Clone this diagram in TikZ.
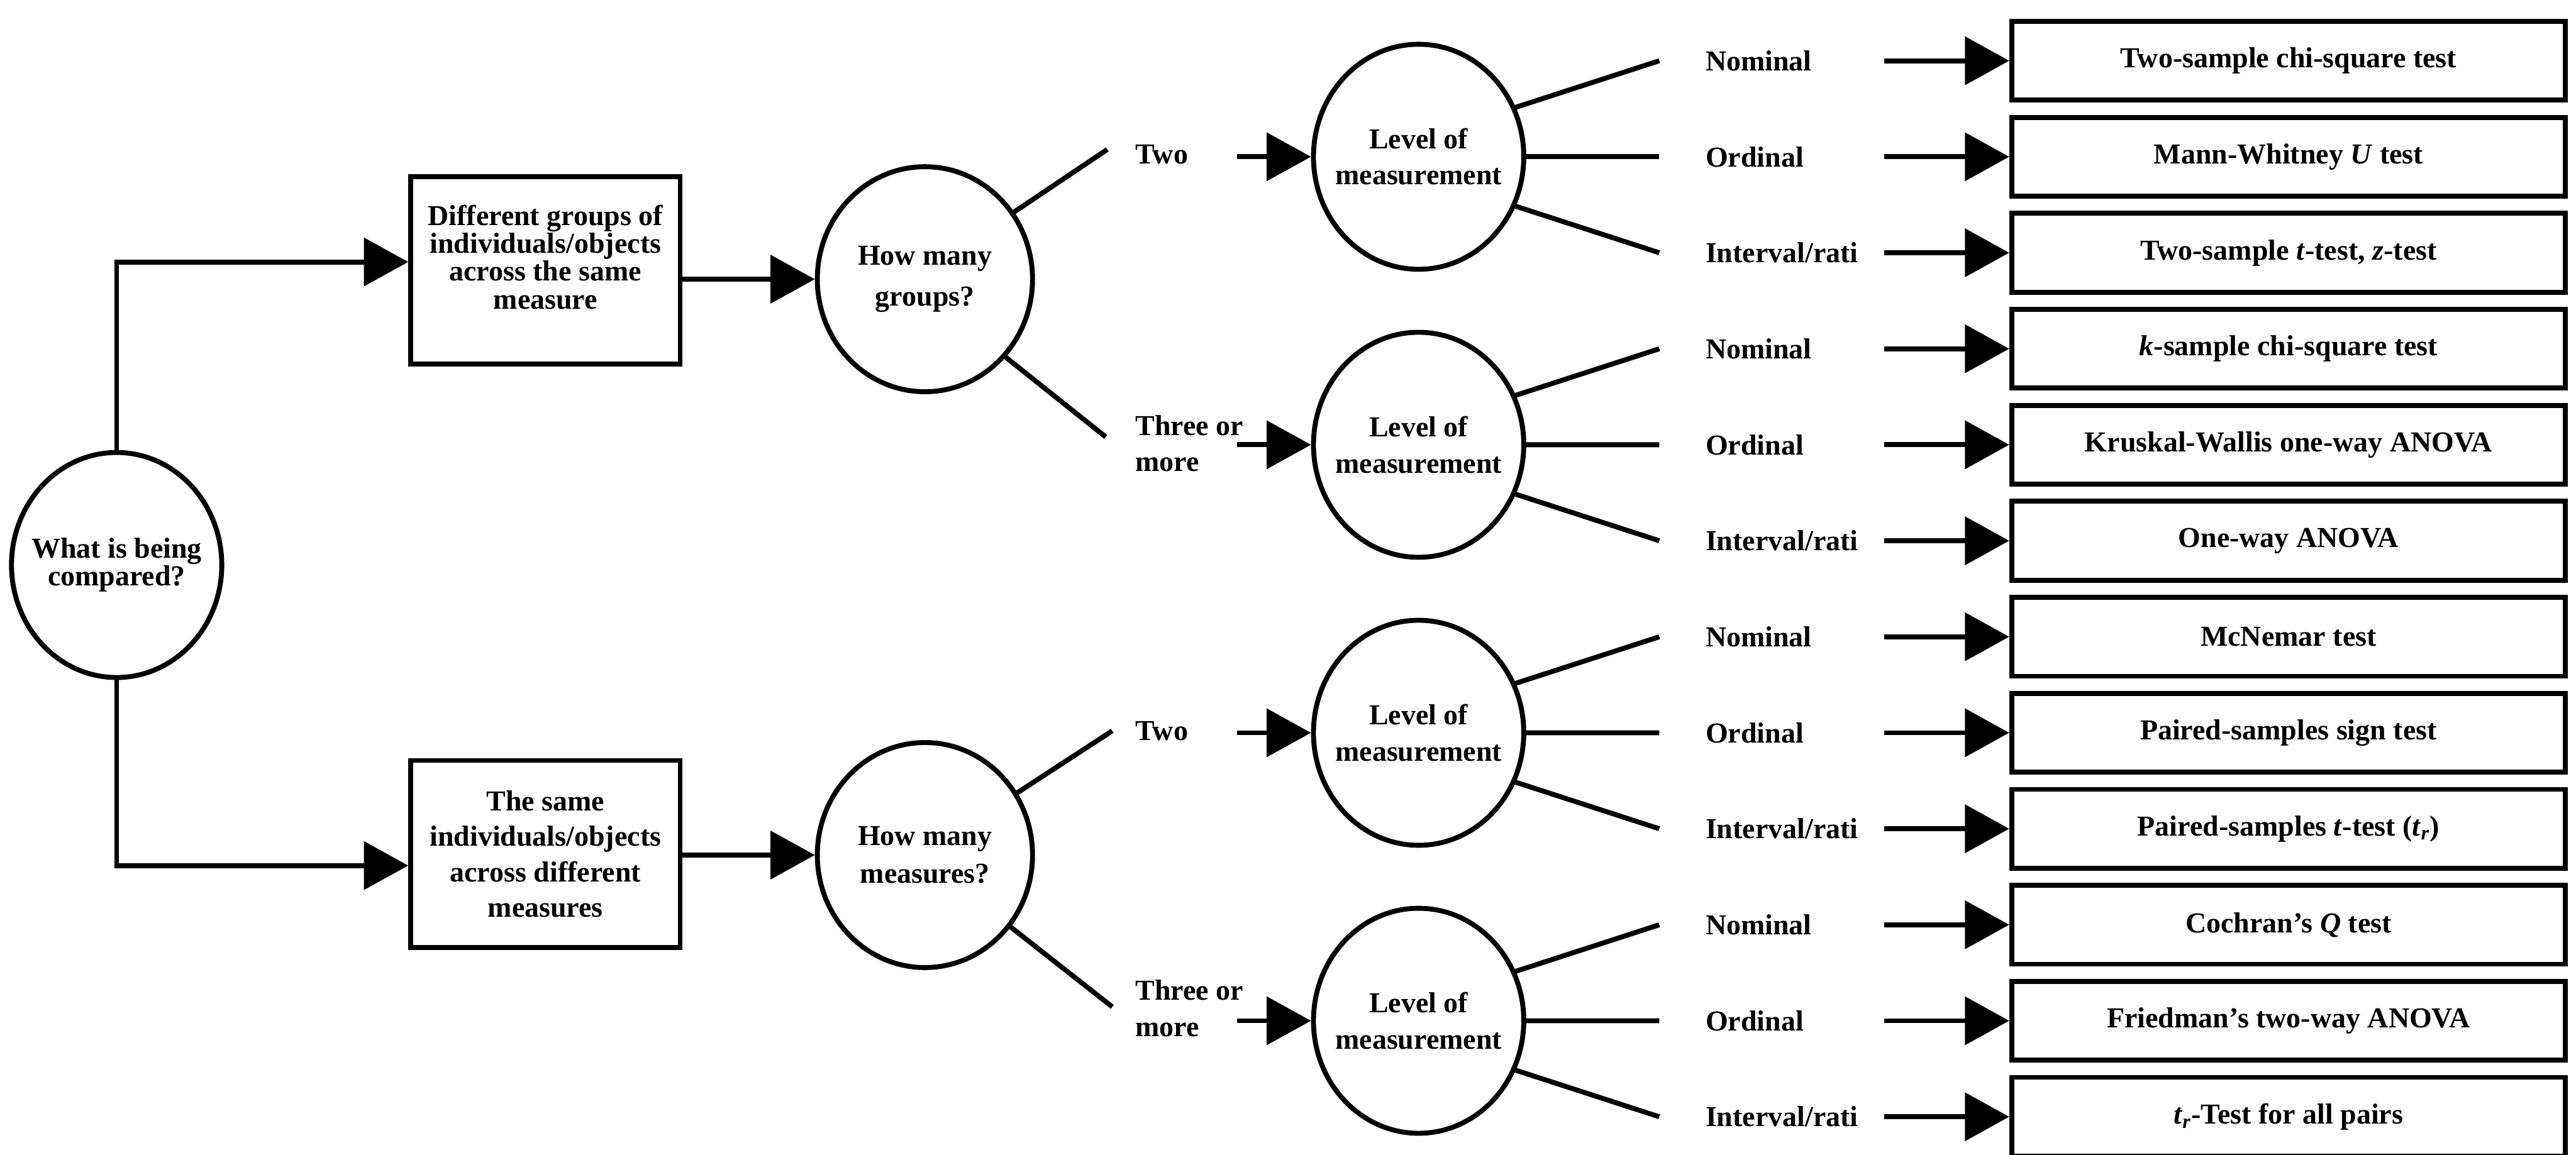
\documentclass[tikz,border=0pt]{standalone}
\usepackage{fontspec}
\setmainfont{Liberation Serif}
\usetikzlibrary{arrows.meta,shapes.geometric}

\begin{document}
\begin{tikzpicture}[x=1pt,y=-1pt,
  txt/.style={font=\fontsize{17.6}{22}\selectfont\bfseries},
  oval/.style={txt,draw,line width=3pt,ellipse,minimum width=128pt,minimum height=137pt,inner xsep=-40pt,inner ysep=-20pt,align=center},
  choice/.style={draw,line width=3pt,rectangle,minimum width=164pt,minimum height=114pt,inner sep=0pt},
  choicetext/.style={txt,align=center,inner sep=0pt},
  testbox/.style={txt,draw,line width=3pt,rectangle,minimum width=337pt,minimum height=48pt,inner sep=0pt},
  lbl/.style={txt,inner sep=0pt,anchor=west,align=left},
  conn/.style={line width=3pt},
  arr/.style={line width=3pt,-{Triangle[length=27pt,width=29pt]}}
]
\useasboundingbox (0,0) rectangle (1568,703);
\fill[white] (0,0) rectangle (1568,703);
\clip (0,0) rectangle (1568,703);

% root question and the two kinds of comparison
\node[oval,font=\fontsize{17.6}{17}\selectfont\bfseries] (root) at (71,344) {What is being\\compared?};
\node[choice,label={[choicetext,font=\fontsize{17.6}{17}\selectfont\bfseries,yshift=8pt]center:{Different groups of\\individuals/objects\\across the same\\measure}}] (diff) at (332,164.5) {};
\node[choice,label={[choicetext,font=\fontsize{17.6}{21.5}\selectfont\bfseries]center:{The same\\individuals/objects\\across different\\measures}}] (same) at (332,520) {};

\draw[arr] (root.north) |- ([yshift=5pt]diff.west);
\draw[arr] (root.south) |- ([yshift=-7pt]same.west);

% how many groups / measures
\node[oval,minimum width=131pt,font=\fontsize{17.6}{25}\selectfont\bfseries] (groups) at (563,170) {How many\\groups?};
\node[oval,minimum width=131pt,font=\fontsize{17.6}{23}\selectfont\bfseries] (measures) at (563,520.6) {How many\\measures?};
\draw[arr] (diff.east |- groups.west) -- (groups.west);
\draw[arr] (same.east |- measures.west) -- (measures.west);

\node[lbl] (g2) at (691,94) {Two};
\node[lbl] (g3) at (691,270) {Three or\\more};
\node[lbl] (m2) at (691,445) {Two};
\node[lbl] (m3) at (691,614) {Three or\\more};

\draw[conn] (groups.37) -- ([xshift=-17pt,yshift=3pt]g2.west);
\draw[conn] (groups.-44) -- ([xshift=-18pt,yshift=4pt]g3.west);
\draw[conn] (measures.34) -- ([xshift=-14pt]m2.west);
\draw[conn] (measures.-40) -- ([xshift=-14pt,yshift=1pt]m3.west);

% level of measurement
\foreach \i/\y in {1/95.45,2/270.8,3/446.15,4/621.5}
  \node[oval] (lev\i) at (863.5,\y) {Level of\\measurement};

\draw[arr] ([xshift=-45pt]lev1.west) -- (lev1.west);
\draw[arr] ([xshift=-45pt]lev2.west) -- (lev2.west);
\draw[arr] ([xshift=-45pt]lev3.west) -- (lev3.west);
\draw[arr] ([xshift=-45pt]lev4.west) -- (lev4.west);

% scale labels and the resulting tests
\foreach \k/\name/\test in {
  0/Nominal/{Two-sample chi-square test},
  1/Ordinal/{Mann-Whitney \textit{U} test},
  2/Interval\slash rati/{Two-sample \textit{t}-test, \textit{z}-test},
  3/Nominal/{\textit{k}-sample chi-square test},
  4/Ordinal/{Kruskal-Wallis one-way ANOVA},
  5/Interval\slash rati/{One-way ANOVA},
  6/Nominal/{McNemar test},
  7/Ordinal/{Paired-samples sign test},
  8/Interval\slash rati/{Paired-samples \textit{t}-test (\textit{t}\textsubscript{\textit{r}})},
  9/Nominal/{Cochran's \textit{Q} test},
  10/Ordinal/{Friedman's two-way ANOVA},
  11/Interval\slash rati/{\textit{t}\textsubscript{\textit{r}}-Test for all pairs}}
{
  \pgfmathsetmacro{\yy}{37+58.45*\k}
  \node[lbl] (s\k) at (1038,\yy) {\name};
  \node[testbox] (t\k) at (1393,\yy) {\test};
  \draw[arr] ([xshift=-76pt]t\k.west) -- (t\k.west);
}

% fan-out from each level node to its three scales
\foreach \i/\a/\b/\c in {1/0/1/2,2/3/4/5,3/6/7/8,4/9/10/11}{
  \draw[conn] (lev\i.27) -- ([xshift=-28pt]s\a.west);
  \draw[conn] (lev\i.east) -- ([xshift=-28pt]s\b.west);
  \draw[conn] (lev\i.-27) -- ([xshift=-28pt]s\c.west);
}
\end{tikzpicture}
\end{document}
